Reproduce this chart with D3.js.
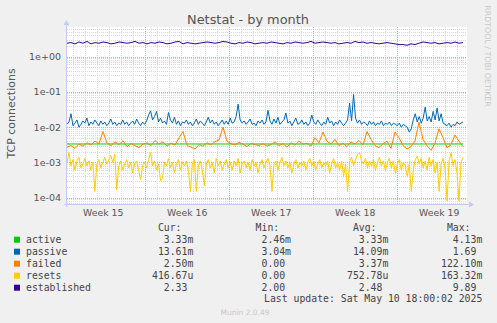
<!DOCTYPE html>
<html><head><meta charset="utf-8">
<script src="https://cdn.jsdelivr.net/npm/d3@7"></script>
<style>
html,body{margin:0;padding:0;background:#F0F0F0;}
svg{display:block;}
text{font-family:"DejaVu Sans",sans-serif;}
.mono{font-family:"DejaVu Sans Mono",monospace;white-space:pre;}
</style></head>
<body>
<script>
// ---- data ----
const seriesNames = ["active","passive","failed","resets","established"];
const seriesColors = ["#00CC00","#0066B3","#FF8000","#FFCC00","#330099"];
const weekLabels = ["Week 15","Week 16","Week 17","Week 18","Week 19"];
const yTickLabels = ["1e+00","1e-01","1e-02","1e-03","1e-04"];
const yTickValues = [1,0.1,0.01,0.001,0.0001];

const active = [0.00333,0.00333,0.00333,0.00333,0.00333,0.00333,0.00333,0.00333,0.00333,0.00333,0.00333];
const passive = [
0.012,0.014,0.024,0.011,0.013,0.016,0.010,0.012,0.015,0.013,
0.018,0.011,0.014,0.012,0.016,0.013,0.011,0.015,0.012,0.014,
0.011,0.013,0.017,0.012,0.014,0.011,0.013,0.012,0.016,0.012,
0.014,0.011,0.013,0.015,0.012,0.017,0.013,0.011,0.014,0.012,
0.015,0.022,0.029,0.016,0.020,0.028,0.014,0.018,0.013,0.015,
0.012,0.026,0.016,0.013,0.019,0.012,0.015,0.011,0.014,0.013,
0.016,0.012,0.014,0.011,0.013,0.017,0.012,0.015,0.013,0.011,
0.014,0.019,0.013,0.016,0.012,0.014,0.011,0.013,0.016,0.012,
0.015,0.012,0.018,0.013,0.014,0.020,0.045,0.016,0.013,0.015,
0.012,0.014,0.017,0.012,0.013,0.011,0.015,0.013,0.016,0.012,
0.014,0.030,0.015,0.012,0.017,0.013,0.019,0.012,0.014,0.016,
0.025,0.013,0.015,0.011,0.014,0.018,0.012,0.013,0.016,0.012,
0.014,0.011,0.013,0.022,0.014,0.012,0.016,0.013,0.011,0.014,
0.012,0.019,0.013,0.015,0.011,0.014,0.012,0.016,0.013,0.011,
0.013,0.016,0.048,0.015,0.085,0.018,0.013,0.016,0.012,0.014,
0.013,0.011,0.015,0.012,0.014,0.011,0.013,0.012,0.015,0.011,
0.013,0.012,0.014,0.011,0.013,0.012,0.011,0.013,0.010,0.012,
0.011,0.010,0.0072,0.009,0.016,0.024,0.014,0.020,0.013,0.018,
0.037,0.015,0.020,0.014,0.028,0.016,0.035,0.015,0.024,0.013,
0.012,0.011,0.013,0.010,0.012,0.011,0.014,0.012,0.013,0.014];
const failed = [
0.0027,0.0030,0.0025,0.0033,0.0029,0.0036,0.0031,0.0040,0.0034,0.0075,
0.0035,0.0030,0.0038,0.0032,0.0041,0.0028,0.0034,0.0030,0.0026,0.0033,
0.0036,0.0030,0.0042,0.0033,0.0038,0.0029,0.0035,0.0031,0.0050,0.0075,
0.0030,0.0027,0.0024,0.0032,0.0029,0.0036,0.0031,0.0039,0.0043,0.0100,
0.0040,0.0034,0.0031,0.0037,0.0033,0.0028,0.0035,0.0032,0.0030,0.0034,
0.0029,0.0032,0.0038,0.0030,0.0034,0.0027,0.0036,0.0031,0.0040,0.0033,
0.0035,0.0029,0.0050,0.0036,0.0072,0.0040,0.0033,0.0045,0.0030,0.0035,
0.0028,0.0038,0.0033,0.0042,0.0031,0.0075,0.0045,0.0030,0.0026,0.0034,
0.0040,0.0025,0.0072,0.0050,0.0030,0.0024,0.0028,0.0040,0.0140,0.0045,
0.0030,0.0022,0.0035,0.0090,0.0050,0.0026,0.0032,0.0060,0.0040,0.0028];
const resets = [
0.0010,0.0019,0.0008,0.0012,0.0006,0.0011,0.0014,0.0007,0.0009,0.0013,
0.0008,0.0011,0.0006,0.0010,0.00015,0.0009,0.0012,0.0007,0.0010,0.0014,
0.0009,0.0012,0.0016,0.0010,0.0017,0.00017,0.0008,0.0011,0.0006,0.0009,
0.0012,0.0007,0.0010,0.0005,0.0009,0.0011,0.0006,0.00032,0.0008,0.0010,
0.0007,0.0012,0.0019,0.0008,0.0011,0.0006,0.0009,0.00030,0.00035,0.0010,
0.0008,0.0013,0.0007,0.0010,0.0005,0.0009,0.0012,0.0006,0.0010,0.0008,
0.0011,0.0006,0.00015,0.0009,0.0012,0.00015,0.0008,0.0011,0.0006,0.00022,
0.0009,0.0012,0.0007,0.0010,0.0005,0.0013,0.0008,0.0011,0.0006,0.0009,
0.0012,0.0007,0.0010,0.0006,0.0011,0.0008,0.0013,0.0005,0.0009,0.0011,
0.0007,0.0010,0.0006,0.0012,0.0008,0.0010,0.0005,0.0009,0.0012,0.0007,
0.0010,0.0013,0.0008,0.00015,0.0009,0.0011,0.0006,0.0010,0.0014,0.0008,
0.0011,0.0007,0.0010,0.0005,0.0009,0.0012,0.0007,0.0010,0.0008,0.0011,
0.0006,0.0010,0.0013,0.0008,0.0011,0.0006,0.0009,0.0012,0.0007,0.0010,
0.0008,0.0011,0.0005,0.0009,0.0013,0.0007,0.0010,0.0006,0.0011,0.0004,
0.0009,0.00015,0.0010,0.0014,0.0008,0.0012,0.0017,0.0019,0.0011,0.0009,
0.0013,0.0007,0.0011,0.0008,0.0012,0.0006,0.0010,0.0014,0.0008,0.0011,
0.0006,0.0010,0.0013,0.0007,0.0011,0.0005,0.0009,0.0012,0.0006,0.0010,
0.0008,0.0004,0.0009,0.00015,0.0006,0.0012,0.0015,0.0009,0.0013,0.0007,
0.0011,0.0006,0.0014,0.0008,0.0012,0.0005,0.0010,0.00015,0.0009,0.0013,
0.0007,0.00008,0.0011,0.0019,0.0008,0.0012,0.0005,0.00008,0.0010,0.0014];
const established = [
2.4,2.5,2.3,2.6,2.4,2.7,2.3,2.5,2.4,2.6,
2.5,2.3,2.4,2.6,2.5,2.4,2.5,2.7,2.4,2.5,
2.3,2.5,2.4,2.6,2.5,2.3,2.4,2.6,2.7,2.3,
2.5,2.4,2.3,2.4,2.5,2.6,2.5,2.4,2.5,2.7,
2.6,2.4,2.3,2.5,2.4,2.6,2.5,2.3,2.4,2.5,
2.4,2.6,2.5,2.4,2.3,2.5,2.4,2.6,2.5,2.4,
2.5,2.7,2.4,2.5,2.6,2.5,2.4,2.5,2.3,2.4,
2.5,2.4,2.7,2.5,2.6,2.4,2.5,2.4,2.3,2.4,
2.5,2.4,2.3,2.2,2.2,2.1,2.3,2.2,2.4,2.6,
2.5,2.4,2.5,2.3,2.4,2.5,2.4,2.6,2.4,2.5];
const curVals = ["3.33m","13.61m","2.50m","416.67u","2.33"];
const minVals = ["2.46m","3.04m","0.00","0.00","2.00"];
const avgVals = ["3.33m","14.09m","3.37m","752.78u","2.48"];
const maxVals = ["4.13m","1.69","122.10m","163.32m","9.89"];
const lastUpdate = "Last update: Sat May 10 18:00:02 2025";

// ---- layout ----
const W=497,H=323;
const L=67,R=467,T=27,B=204;
const tStart = new Date(2025,3,7,12,36);
const tEnd = new Date(2025,4,10,20,36);
const dataStart = new Date(2025,3,7,12,36);
const spanMs = 99*8*3600*1000;

const svg = d3.select("body").append("svg").attr("width",W).attr("height",H);
svg.append("rect").attr("width",W).attr("height",H).attr("fill","#F0F0F0");
svg.append("rect").attr("x",L).attr("y",T).attr("width",R-L).attr("height",B-T).attr("fill","#FFFFFF");

const x = d3.scaleTime().domain([tStart,tEnd]).range([L,R]);
const y = d3.scaleLog().domain([Math.pow(10,-4.18),Math.pow(10,0.84)]).range([B,T]);

const grid = svg.append("g");
const minorY=[];
for(let e=-5;e<=1;e++) for(let m=2;m<=9;m++){const v=m*Math.pow(10,e); if(v>=y.domain()[0]&&v<=y.domain()[1]) minorY.push(v);}
grid.selectAll(".hm").data(minorY).enter().append("line")
 .attr("x1",L).attr("x2",R).attr("y1",d=>Math.round(y(d))+0.5).attr("y2",d=>Math.round(y(d))+0.5)
 .attr("stroke","#d8d8d8").attr("stroke-dasharray","1,1").attr("stroke-width",1);
const days = d3.timeDay.range(tStart,tEnd);
grid.selectAll(".vm").data(days).enter().append("line")
 .attr("x1",d=>Math.round(x(d))+0.5).attr("x2",d=>Math.round(x(d))+0.5).attr("y1",T).attr("y2",B)
 .attr("stroke","#d8d8d8").attr("stroke-dasharray","1,1");
grid.selectAll(".hM").data(yTickValues).enter().append("line")
 .attr("x1",L).attr("x2",R).attr("y1",d=>Math.round(y(d))+0.5).attr("y2",d=>Math.round(y(d))+0.5)
 .attr("stroke","#e4a0a0").attr("stroke-dasharray","1,1");
const weeks = d3.timeMonday.range(tStart,tEnd);
grid.selectAll(".vM").data(weeks).enter().append("line")
 .attr("x1",d=>Math.round(x(d))+0.5).attr("x2",d=>Math.round(x(d))+0.5).attr("y1",T).attr("y2",B)
 .attr("stroke","#e4a0a0").attr("stroke-dasharray","1,1");

const allSeries=[active,passive,failed,resets,established];
const lineGen = d3.line().defined(d=>d.v>0).x(d=>x(d.t)).y(d=>y(d.v));
const plot = svg.append("g");
plot.append("clipPath").attr("id","clip").append("rect").attr("x",L).attr("y",T).attr("width",R-L).attr("height",B-T);
allSeries.forEach((arr,k)=>{
  const n=arr.length;
  const step = spanMs/(n-1);
  const pts = arr.map((v,i)=>({t:new Date(dataStart.getTime()+i*step),v:v}));
  plot.append("path").datum(pts).attr("d",lineGen).attr("fill","none")
   .attr("stroke",seriesColors[k]).attr("stroke-width",1).attr("clip-path","url(#clip)");
});

const axisCol="#c4ccee";
svg.append("line").attr("x1",L-0.5).attr("x2",L-0.5).attr("y1",T-3).attr("y2",B+3).attr("stroke",axisCol);
svg.append("line").attr("x1",L-3).attr("x2",R+3).attr("y1",B+0.5).attr("y2",B+0.5).attr("stroke",axisCol);
svg.append("path").attr("d",`M${L-3.5},${T-2} L${L-0.5},${T-7} L${L+2.5},${T-2} Z`).attr("fill",axisCol);
svg.append("path").attr("d",`M${R+2},${B-2.5} L${R+7},${B+0.5} L${R+2},${B+3.5} Z`).attr("fill",axisCol);

const yAxis = d3.axisLeft(y).tickValues(yTickValues).tickFormat((d,i)=>yTickLabels[i]).tickSize(0).tickPadding(6);
const ya = svg.append("g").attr("transform",`translate(${L},0)`).call(yAxis);
ya.select(".domain").remove();
ya.selectAll("text").attr("font-family","DejaVu Sans").attr("font-size","9.5px").attr("fill","#555");

const weekCenters = weekLabels.map((w,i)=>new Date(d3.timeMonday.offset(new Date(2025,3,7),i).getTime()+3.5*86400000));
const xAxis = d3.axisBottom(x).tickValues(weekCenters).tickFormat((d,i)=>weekLabels[i]).tickSize(0).tickPadding(5);
const xa = svg.append("g").attr("transform",`translate(0,${B})`).call(xAxis);
xa.select(".domain").remove();
xa.selectAll("text").attr("font-family","DejaVu Sans").attr("font-size","9.3px").attr("fill","#555");

svg.append("text").attr("x",248).attr("y",24).attr("text-anchor","middle")
 .attr("font-size","12.9px").attr("fill","#555").text("Netstat - by month");
svg.append("text").attr("transform","translate(15,113.5) rotate(-90)").attr("text-anchor","middle")
 .attr("font-size","11px").attr("fill","#555").text("TCP connections");
svg.append("text").attr("transform","translate(485,56) rotate(90)").attr("text-anchor","middle")
 .attr("font-size","7.9px").attr("fill","#c8c8c8").text("RRDTOOL / TOBI OETIKER");
svg.append("text").attr("x",245).attr("y",315).attr("text-anchor","middle")
 .attr("font-size","7.5px").attr("fill","#c8c8c8").text("Munin 2.0.49");

const cw=5.9, fs="9.8px", lc="#444";
const colEdges=[193.3,291,388.3,482.3];
const headers=["Cur:","Min:","Avg:","Max:"];
const cols=[curVals,minVals,avgVals,maxVals];
const leg=svg.append("g");
headers.forEach((h,j)=>{
  leg.append("text").attr("class","mono").attr("x",colEdges[j]-2*cw).attr("y",231).attr("text-anchor","end")
   .attr("font-size",fs).attr("fill",lc).text(h);
});
seriesNames.forEach((nm,i)=>{
  const by=242.7+12*i;
  leg.append("rect").attr("x",14).attr("y",by-6).attr("width",6).attr("height",6).attr("fill",seriesColors[i]);
  leg.append("text").attr("class","mono").attr("x",26).attr("y",by).attr("font-size",fs).attr("fill",lc).text(nm);
  cols.forEach((c,j)=>{
    const s=c[i]; const hasUnit=/[a-zA-Z]$/.test(s);
    leg.append("text").attr("class","mono").attr("x",colEdges[j]-(hasUnit?0:cw)).attr("y",by)
     .attr("text-anchor","end").attr("font-size",fs).attr("fill",lc).text(s);
  });
});
leg.append("text").attr("class","mono").attr("x",482.3).attr("y",302).attr("text-anchor","end")
 .attr("font-size",fs).attr("fill",lc).text(lastUpdate);
</script>
</body></html>
